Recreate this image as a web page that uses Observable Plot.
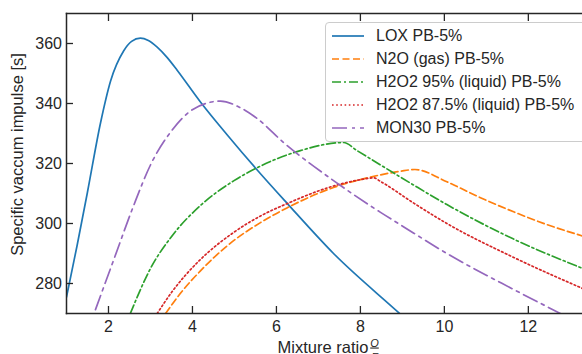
<!DOCTYPE html>
<html><head><meta charset="utf-8">
<script src="https://cdn.jsdelivr.net/npm/d3@7"></script>
<script src="https://cdn.jsdelivr.net/npm/@observablehq/plot@0.6"></script>
<style>
body{margin:0;background:#fff;font-family:"Liberation Sans",Arial,sans-serif;}
#wrap{position:relative;width:582px;height:354px;overflow:hidden;background:#fff;}
#legend{position:absolute;left:325px;top:22px;width:280px;height:120px;border:1px solid #cccccc;border-radius:4px;background:rgba(255,255,255,0.85);box-sizing:border-box;}
.row{position:absolute;left:0;height:20px;display:flex;align-items:center;font-size:16px;color:#262626;white-space:nowrap;}
</style></head>
<body><div id="wrap"></div>
<script>
// ---- data ----
const series = ["LOX PB-5%", "N2O (gas) PB-5%", "H2O2 95% (liquid) PB-5%", "H2O2 87.5% (liquid) PB-5%", "MON30 PB-5%"];
const colors = ["#1f77b4", "#ff7f0e", "#2ca02c", "#d62728", "#9467bd"];
const dashes = [null, "7,3.5", "9,3,2,3", "1.6,2.6", "15,5,3,5"];

const loxX = [1.0, 1.25, 1.5, 1.81, 2.05, 2.36, 2.55, 2.76, 2.95, 3.16, 3.4, 3.64, 4.19, 4.83, 5.5, 6.25, 7.36, 8.95, 9.2];
const loxY = [275.5, 292.5, 310.5, 333.5, 347.5, 357.5, 360.7, 361.8, 361.0, 358.8, 355.3, 351.0, 340.5, 329.5, 318.5, 306.8, 290.0, 269.8, 266.6];

const n2oX = [3.36, 3.7, 4.19, 4.83, 5.62, 6.25, 7.36, 8.16, 8.95, 9.3, 10.06, 10.86, 11.65, 12.45, 13.3];
const n2oY = [270, 276.5, 284.2, 292.6, 300.3, 305.2, 312.0, 315.2, 317.4, 318.0, 313.9, 308.6, 303.9, 299.6, 295.8];

const h95X = [2.52, 3.0, 3.55, 4.19, 4.98, 5.5, 6.57, 7.6, 7.92, 8.48, 9.27, 10.06, 11.65, 13.3];
const h95Y = [270, 285.0, 296.5, 306.0, 314.2, 318.3, 324.3, 327.0, 324.3, 319.5, 312.8, 306.3, 294.8, 285.0];

const h875X = [3.16, 3.5, 4.19, 4.98, 5.62, 6.25, 7.36, 8.0, 8.32, 8.48, 9.27, 10.06, 11.65, 13.3];
const h875Y = [270, 277.0, 288.0, 297.0, 302.5, 306.6, 312.5, 314.6, 315.2, 314.0, 306.8, 300.0, 288.7, 278.3];

const monX = [1.69, 2.13, 2.6, 3.0, 3.48, 4.03, 4.67, 5.14, 5.54, 6.17, 7.36, 8.48, 8.95, 10.06, 11.65, 12.76, 13.3];
const monY = [271.3, 288.1, 306.0, 319.5, 330.5, 338.2, 340.8, 338.6, 335.0, 327.0, 314.3, 303.7, 299.6, 290.0, 278.0, 270.0, 266.0];

const xTicks = [2, 4, 6, 8, 10, 12];
const yTicks = [280, 300, 320, 340, 360];
const xDomain = [1, 13.29];
const yDomain = [270, 370];

// ---- table ----
const rows = [];
function add(name, xs, ys) { xs.forEach((x, i) => rows.push({series: name, x, y: ys[i]})); }
add(series[0], loxX, loxY);
add(series[1], n2oX, n2oY);
add(series[2], h95X, h95Y);
add(series[3], h875X, h875Y);
add(series[4], monX, monY);

const axisColor = "#262626";
const lineMarks = series.map((s, i) => Plot.line(rows.filter(d => d.series === s), {
  x: "x", y: "y", stroke: colors[i], strokeWidth: 1.7, curve: "monotone-x", clip: true,
  strokeDasharray: dashes[i] || undefined
}));

const chart = Plot.plot({
  width: 582, height: 354,
  marginLeft: 66, marginRight: 0, marginTop: 13, marginBottom: 41,
  style: {fontFamily: "'Liberation Sans', Arial, sans-serif", fontSize: "16px", color: axisColor, background: "white", overflow: "visible"},
  x: {domain: xDomain},
  y: {domain: yDomain},
  marks: [
    ...lineMarks,
    Plot.frame({anchor: "left", stroke: axisColor, strokeWidth: 1.5}),
    Plot.frame({anchor: "top", stroke: axisColor, strokeWidth: 1.5}),
    Plot.frame({anchor: "bottom", stroke: axisColor, strokeWidth: 1.5}),
    Plot.axisX(xTicks, {anchor: "bottom", tickSize: 0, tickPadding: 7, label: null, fontSize: 16, fill: axisColor}),
    Plot.axisX(xTicks, {anchor: "bottom", tickSize: -7, fill: "none", label: null, stroke: axisColor, strokeWidth: 1.3}),
    Plot.axisX(xTicks, {anchor: "top", tickSize: -7, fill: "none", label: null, stroke: axisColor, strokeWidth: 1.3}),
    Plot.axisY(yTicks, {anchor: "left", tickSize: 0, tickPadding: 4.5, label: null, fontSize: 16, fill: axisColor}),
    Plot.axisY(yTicks, {anchor: "left", tickSize: -7, fill: "none", label: null, stroke: axisColor, strokeWidth: 1.3}),
    Plot.text(["Specific vaccum impulse [s]"], {frameAnchor: "left", textAnchor: "middle", rotate: -90, dx: -44, dy: -9, lineAnchor: "bottom", fontSize: 16.5, fill: axisColor}),
    Plot.text(["Mixture ratio"], {frameAnchor: "bottom", textAnchor: "middle", dx: -1.5, dy: 39, lineAnchor: "bottom", fontSize: 16.5, fill: axisColor}),
    Plot.text(["O"], {frameAnchor: "bottom", textAnchor: "middle", dx: 50, dy: 33, lineAnchor: "bottom", fontSize: 11, fontStyle: "italic", fill: axisColor}),
    Plot.text(["F"], {frameAnchor: "bottom", textAnchor: "middle", dx: 50, dy: 47, lineAnchor: "bottom", fontSize: 11, fontStyle: "italic", fill: axisColor})
  ]
});

const wrap = document.getElementById("wrap");
wrap.appendChild(chart);

// fraction bar under "O"
const svg = d3.select(chart);
svg.selectAll("text").filter(function() { return this.textContent === "O"; }).style("text-decoration", "underline");

// legend (HTML overlay)
const legend = document.createElement("div");
legend.id = "legend";
series.forEach((s, i) => {
  const row = document.createElement("div");
  row.className = "row";
  row.style.top = (3 + i * 22.9) + "px";
  const da = dashes[i] ? `stroke-dasharray="${dashes[i]}"` : "";
  row.innerHTML = `<svg width="40" height="20" style="margin-left:5px;display:block"><line x1="1" x2="33" y1="10" y2="10" stroke="${colors[i]}" stroke-width="1.7" ${da}/></svg><span style="margin-left:5px">${s}</span>`;
  legend.appendChild(row);
});
wrap.appendChild(legend);
</script></body></html>
